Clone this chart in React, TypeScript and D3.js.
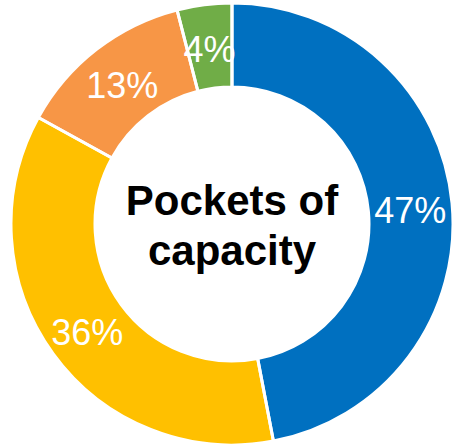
import React from "react";
import * as d3 from "d3";

const categories = ["A", "B", "C", "D"];
const values = [47, 36, 13, 4];
const labels = ["47%", "36%", "13%", "4%"];
const colors = ["#0070C0", "#FFC000", "#F79646", "#70AD47"];
const titleLines = ["Pockets of", "capacity"];

export default function App() {
  const W = 454, H = 446;
  const cx = 232, cy = 224;
  const outer = 221, inner = 137;
  const pie = d3.pie<number>().sort(null).value((d) => d);
  const arcs = pie(values);
  const arc = d3.arc<d3.PieArcDatum<number>>().innerRadius(inner).outerRadius(outer);
  return (
    <svg width={W} height={H} style={{ position: "absolute", left: 0, top: 0 }}>
      <rect width={W} height={H} fill="#fff" />
      <g transform={`translate(${cx},${cy})`}>
        {arcs.map((a, i) => (
          <path key={categories[i]} d={arc(a) || ""} fill={colors[i]} />
        ))}
        {arcs.map((a, i) => {
          const [x, y] = arc.centroid(a);
          return (
            <text key={"l" + i} x={x} y={y} dy="0.44em" textAnchor="middle" fill="#fff"
              fontFamily="Liberation Sans, Arial, sans-serif" fontSize={36}>
              {labels[i]}
            </text>
          );
        })}
        {arcs.map((a, i) => (
          <path key={"s" + i} d={arc(a) || ""} fill="none" stroke="#fff" strokeWidth={3} strokeLinejoin="miter" />
        ))}
        {titleLines.map((t, i) => (
          <text key={"t" + i} x={0} y={-9 + i * 50} textAnchor="middle" fill="#000"
            fontFamily="Liberation Sans, Arial, sans-serif" fontSize={42} fontWeight="bold">
            {t}
          </text>
        ))}
      </g>
    </svg>
  );
}
